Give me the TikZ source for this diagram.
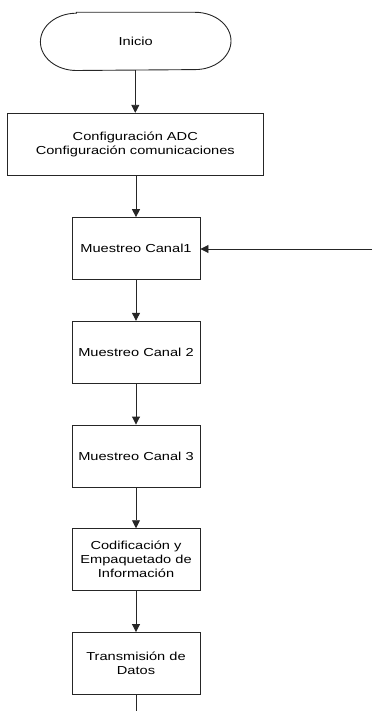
\documentclass[tikz,border=0pt]{standalone}
\usepackage{fontspec}
\setmainfont{Liberation Sans}[FakeStretch=1.26]
\usetikzlibrary{arrows.meta}
\begin{document}
\begin{tikzpicture}[x=1pt,y=-1pt,
  box/.style={draw=black!85,line width=0.9pt,minimum width=128pt,minimum height=62pt,inner sep=0pt,align=center,font=\fontsize{11.6}{14}\selectfont},
  arr/.style={draw=black!85,line width=0.9pt,-{Triangle[width=8pt,length=8pt]}},
  ln/.style={draw=black!85,line width=0.9pt}]
\useasboundingbox (0,0) rectangle (372,711);
\node[box,draw=none,minimum width=189.7pt,minimum height=57.3pt] (inicio) at (135.7,41.4) {Inicio};
\draw[ln] ([xshift=36pt]inicio.north west) -- ([xshift=-36pt]inicio.north east)
  arc[start angle=90,end angle=-90,x radius=36pt,y radius=28.65pt]
  -- ([xshift=36pt]inicio.south west)
  arc[start angle=270,end angle=90,x radius=36pt,y radius=28.65pt] -- cycle;
\node[box,minimum width=256pt,minimum height=62.4pt] (config) at (135.3,144.5) {Configuración ADC\\Configuración comunicaciones};
\node[box] (m1) at (136,248.6) {Muestreo Canal1};
\node[box] (m2) at (136,352.3) {Muestreo Canal 2};
\node[box] (m3) at (136,456) {Muestreo Canal 3};
\node[box] (cod) at (136,559.7) {Codificación y\\Empaquetado de\\Información};
\node[box] (tx) at (136,663.5) {Transmisión de\\Datos};
\coordinate (loopin) at (372,249);
\coordinate (bottom) at (136,711);
\draw[arr] (inicio.south -| config.north) -- (config.north);
\draw[arr] (config.south -| m1.north) -- (m1.north);
\draw[arr] (m1) -- (m2);
\draw[arr] (m2) -- (m3);
\draw[arr] (m3) -- (cod);
\draw[arr] (cod) -- (tx);
\draw[arr] (loopin) -- (loopin -| m1.east);
\draw[ln] (tx.south) -- (bottom);
\end{tikzpicture}
\end{document}
